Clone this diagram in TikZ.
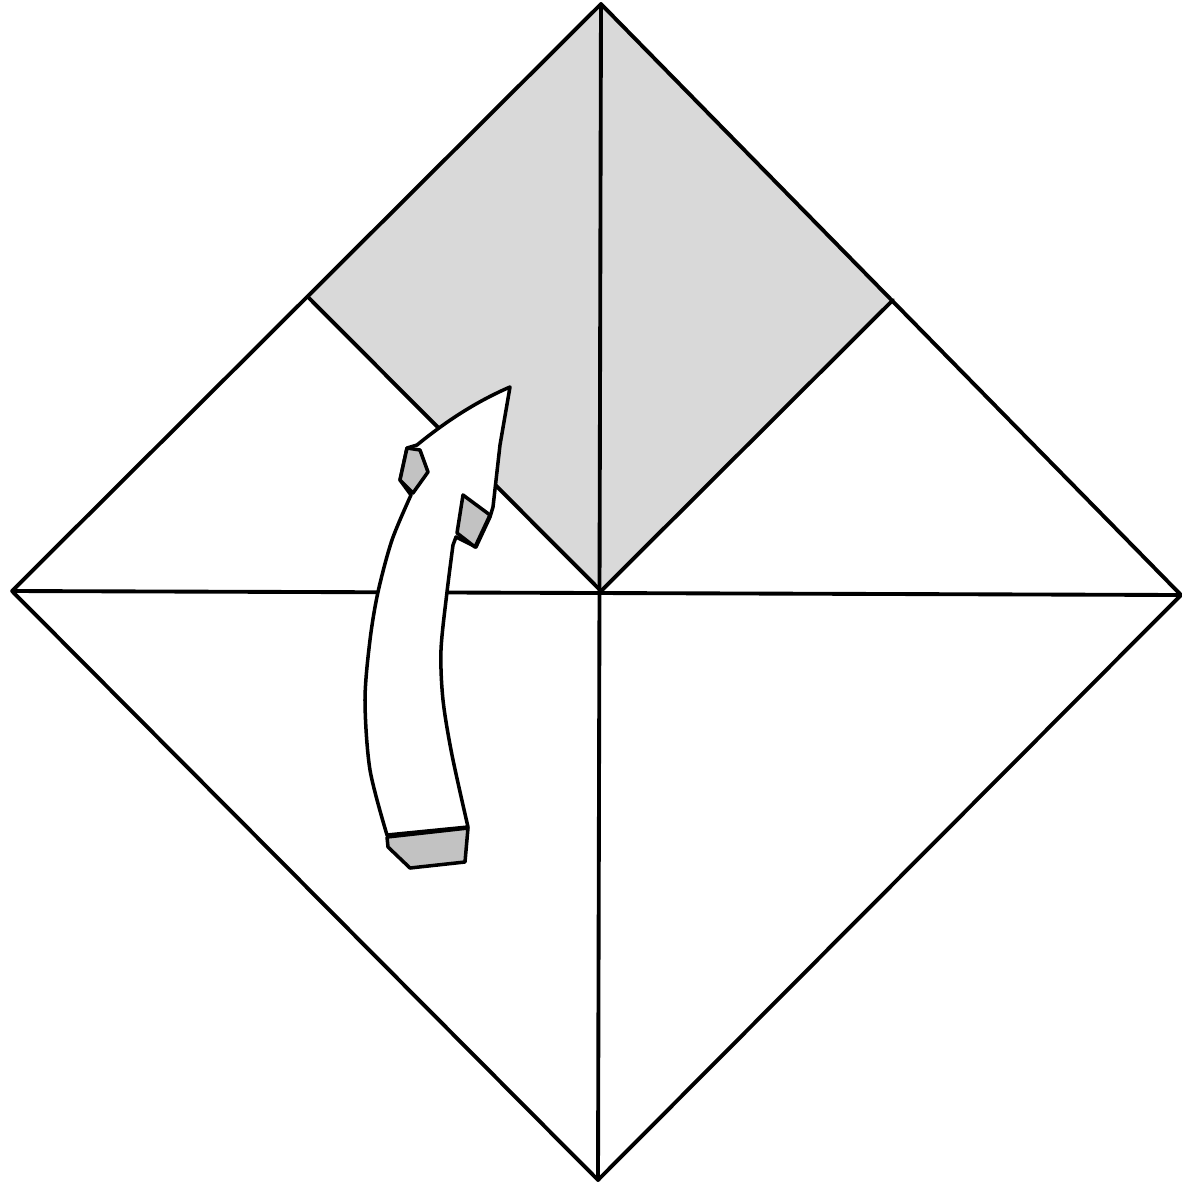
\documentclass[tikz,border=0pt]{standalone}
\begin{document}
\begin{tikzpicture}[x=0.02cm,y=-0.02cm,
  fold/.style={line width=2.2pt,line join=round,line cap=round},
  arrowline/.style={line width=2pt,line join=round,line cap=round},
  tab/.style={arrowline,fill=tabgrey}]
\definecolor{paper}{HTML}{D9D9D9}
\definecolor{tabgrey}{HTML}{C2C2C2}
\useasboundingbox (0,0) rectangle (1181,1184);
\coordinate (T) at (601,4);
\coordinate (L) at (12,591);
\coordinate (R) at (1181,595);
\coordinate (B) at (598,1180);
\coordinate (C) at (601,591);
\coordinate (GL) at (309,298);
\coordinate (GR) at (893,300);
% grey flap
\fill[paper] (T) -- (GL) -- (C) -- (GR) -- cycle;
% creases and edges
\draw[fold] (T) -- (R) -- (B) -- (L) -- cycle;
\draw[fold] (L) -- (R);
\draw[fold] (T) -- (B);
\draw[fold] (GL) -- (C) -- (GR);
% arrow body
\draw[arrowline,fill=white] (510,387) -- (500,445) -- (493,507) -- (490,517)
  -- (476,547) -- (456,537)
  -- plot[smooth] coordinates {(453,545) (447,592) (441,650) (443,700) (452,755) (468,827)}
  -- (387,835)
  -- plot[smooth] coordinates {(387,835) (370,770) (365,700) (370,640) (378,592) (392,540) (411,495)}
  -- (400,480) -- (407,448) -- (417,445)
  .. controls (450,418) and (480,400) .. (510,387) -- cycle;
% grey tabs
\draw[tab] (407,448) -- (420,450) -- (428,472) -- (413,493) -- (400,480) -- cycle;
\draw[tab] (463,495) -- (490,515) -- (475,547) -- (457,533) -- cycle;
\draw[tab] (387,837) -- (468,828) -- (465,862) -- (410,868) -- (388,847) -- cycle;
\end{tikzpicture}
\end{document}
